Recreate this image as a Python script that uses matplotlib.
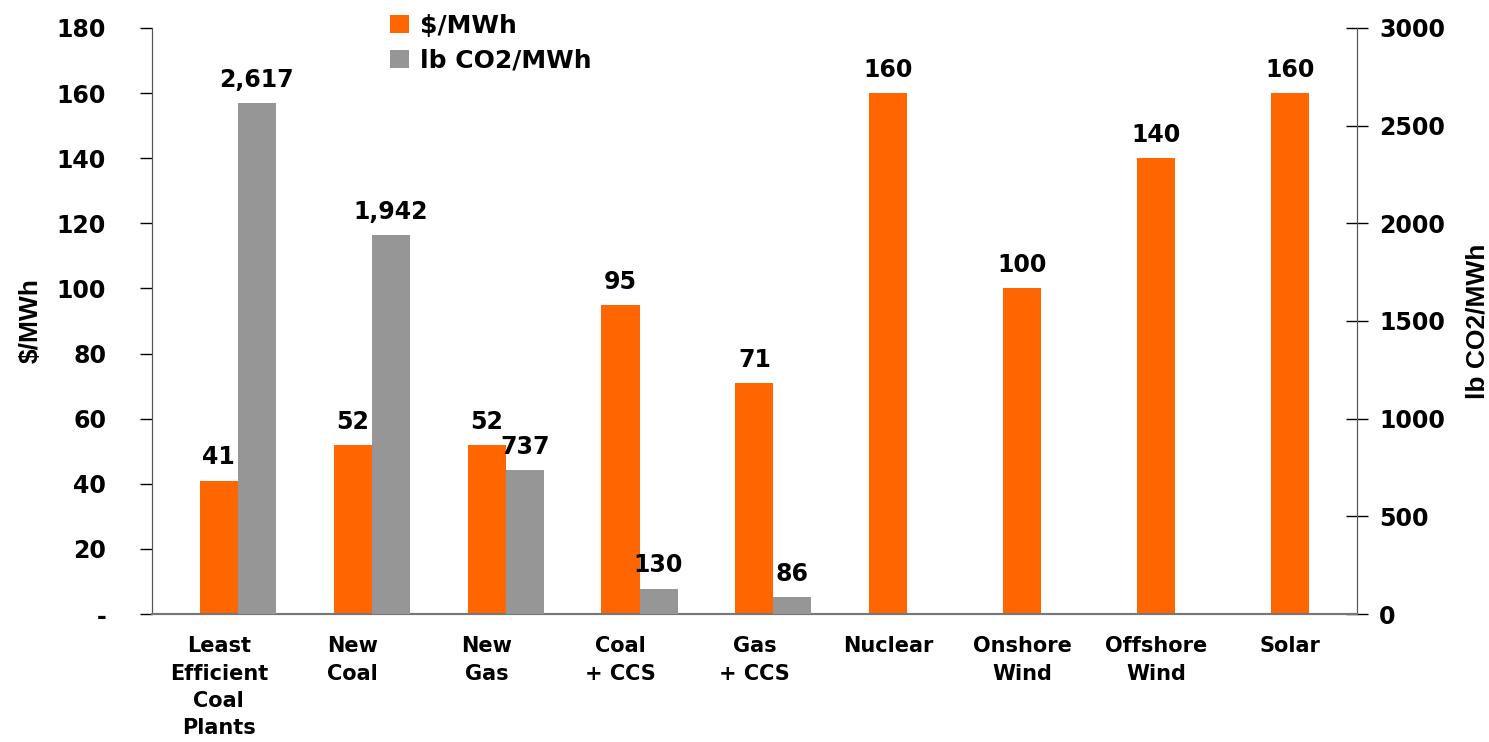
import matplotlib
matplotlib.use("Agg")
import matplotlib.pyplot as plt
import numpy as np

plt.rcParams['font.family'] = ['DejaVu Sans']
plt.rcParams['font.weight'] = 'bold'

categories = ["Least\nEfficient\nCoal\nPlants", "New\nCoal", "New\nGas", "Coal\n+ CCS",
              "Gas\n+ CCS", "Nuclear", "Onshore\nWind", "Offshore\nWind", "Solar"]
cost = [41, 52, 52, 95, 71, 160, 100, 140, 160]
co2 = [2617, 1942, 737, 130, 86, None, None, None, None]
left_ticks = [0, 20, 40, 60, 80, 100, 120, 140, 160, 180]
left_ticklabels = ["-", "20", "40", "60", "80", "100", "120", "140", "160", "180"]
right_ticks = [0, 500, 1000, 1500, 2000, 2500, 3000]

ORANGE = "#FF6600"
GRAY = "#969696"
NARROW = ['Liberation Sans Narrow', 'Liberation Sans', 'DejaVu Sans']

fig = plt.figure(figsize=(14.89, 7.42), dpi=100)
ax = fig.add_axes([0.102, 0.1725, 0.8093, 0.7898])
ax2 = ax.twinx()

x = np.arange(len(categories))
w = 0.284
b1 = ax.bar(x, cost, width=w, color=ORANGE, label="$/MWh", zorder=3)
gx = [xi + w for xi, v in zip(x, co2) if v is not None]
gv = [v for v in co2 if v is not None]
b2 = ax2.bar(gx, gv, width=w, color=GRAY, label="lb CO2/MWh", zorder=3)

for xi, v in zip(x, cost):
    ax.annotate(f"{v}", (xi, v), xytext=(0, 8), textcoords="offset points",
                ha="center", va="bottom", fontsize=17, fontweight="bold")
for xi, v in zip(gx, gv):
    ax2.annotate(f"{v:,}", (xi, v), xytext=(0, 8), textcoords="offset points",
                 ha="center", va="bottom", fontsize=17, fontweight="bold")

ax.set_xlim(-0.5, len(categories) - 0.5)
ax.set_ylim(0, 180)
ax2.set_ylim(0, 3000)
ax.set_yticks(left_ticks)
ax.set_yticklabels(left_ticklabels, fontsize=17, fontweight="bold")
ax2.set_yticks(right_ticks)
ax2.set_yticklabels([str(t) for t in right_ticks], fontsize=17, fontweight="bold")

ax.set_xticks(x)
ax.set_xticklabels(categories, fontsize=15, fontweight="bold", linespacing=1.46)
ax.tick_params(axis="x", length=0, pad=16)
ax.tick_params(axis="y", direction="out", length=9, width=1, pad=24, colors="black")
ax2.tick_params(axis="y", direction="inout", length=16, width=1, pad=8)

for a in (ax, ax2):
    a.spines["top"].set_visible(False)
    a.spines["left"].set_color("#555555")
    a.spines["right"].set_color("#555555")
    a.spines["bottom"].set_color("#777777")
    a.spines["bottom"].set_linewidth(1.5)

ax.set_ylabel("$/MWh", fontsize=19, fontweight="bold", family=NARROW)
ax2.set_ylabel("lb CO2/MWh", fontsize=19, fontweight="bold", family=NARROW)
ax.yaxis.set_label_coords(-0.091, 0.5)
ax2.yaxis.set_label_coords(1.09, 0.5)

fig.legend(handles=[b1, b2], labels=["$/MWh", "lb CO2/MWh"], loc="upper left",
           bbox_to_anchor=(0.247, 1.012), frameon=False,
           handlelength=0.75, handleheight=0.75, handletextpad=0.45, labelspacing=0.45,
           prop={"weight": "bold", "size": 18})

fig.savefig("out.png", dpi=100)
